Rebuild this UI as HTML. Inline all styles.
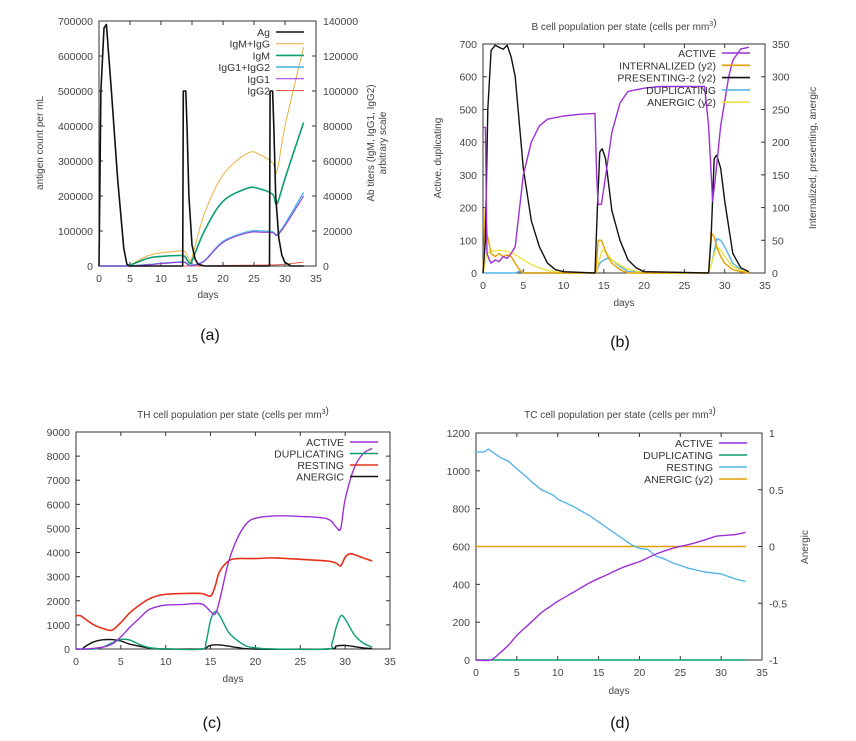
<!DOCTYPE html>
<html><head><meta charset="utf-8">
<style>
body{margin:0;background:#fff;}
svg{display:block;font-family:"Liberation Sans",sans-serif;}
.tk{font-size:10.5px;fill:#444;}
.lb{font-size:10px;fill:#444;}
.lg{font-size:10.5px;fill:#333;}
.cap{font-family:"Liberation Sans",sans-serif;font-size:16px;fill:#111;}
</style></head>
<body>
<svg id="fig" width="856" height="741" viewBox="0 0 856 741"></svg>
<script>
// ---------- Panel (a) data ----------
const aAgDays=[0,0.3,0.8,1.2,2,3,4,4.5,5,13.5,13.6,14,14.2,14.5,15,15.5,16,17,27.5,27.6,28,28.2,28.5,29,29.5,30,31,33];
const aAgVals=[0,500000,680000,690000,500000,250000,50000,5000,0,0,500000,500000,400000,200000,60000,20000,5000,0,0,500000,500000,400000,200000,80000,30000,10000,0,0];
const aIgDays=[0,4.5,5,8,10,13,13.8,14.5,15,17,20,24,26,28,28.7,30,33];
const aIgMIgG=[0,0,500,6000,7500,8500,8500,4000,5000,30000,52000,64500,63500,59000,54000,80000,125000];
const aIgM=[0,0,500,4500,5500,6000,5500,2000,3000,20000,37000,44500,44000,41000,35500,50000,82000];
const aIgG12=[0,0,0,800,1500,2200,2200,500,300,3000,14000,19500,20000,19500,18000,24000,42000];
const aIgG1=[0,0,0,700,1400,2100,2100,400,250,2800,13500,19000,19300,19000,17500,23000,40000];
const aIgG2=[0,0,0,0,0,0,0,0,0,50,300,400,500,600,700,1000,2200];
// ---------- Panel (b) data ----------
const bActDays=[0,0.3,0.5,0.8,1,1.5,2,2.5,3,3.5,4,5,6,7,8,10,12,13.9,14.1,14.3,14.7,15,16,17,18,20,22,25,27.5,28,28.5,28.8,29.5,30.5,31,32,33];
const bActVals=[445,445,60,40,30,40,35,50,45,60,80,300,400,450,470,480,485,488,300,210,210,260,430,520,555,565,570,570,570,450,220,280,450,600,650,685,690];
const bPresDays=[0,0.3,0.6,1,1.5,2,2.5,3,3.5,4,5,6,7,8,9,10,13.9,14.2,14.5,14.8,15.2,16,17,18,19,20,28,28.3,28.7,29,29.5,30,31,32,33];
const bPresVals=[0,50,250,340,348,345,342,348,330,300,160,80,40,15,5,2,0,100,185,190,175,95,50,20,8,2,0,50,175,180,160,110,30,8,2];
const bIntDays=[0,0.3,0.5,1,1.5,2,2.5,3,3.5,4,4.5,5,14,14.3,14.7,15,15.5,16,17,18,28,28.3,28.7,29,29.5,30,31,32,33];
const bIntVals=[0,100,60,30,25,30,25,28,25,15,5,0,0,50,50,40,25,15,5,0,0,62,55,40,25,15,5,2,0];
const bAnDays=[0,0.5,1,2,3,4,5,6,7,8,9,10,14,14.3,14.8,15.5,16,17,18,19,20,28,28.5,29,29.5,30,31,32,33];
const bAnVals=[0,30,33,35,33,28,20,13,8,4,2,0,0,15,35,28,20,12,6,3,0,0,20,40,35,25,10,4,2];
const bDupDays=[0,4,4.5,5,14,14.5,15,15.5,16,17,18,28,28.5,29,29.5,30,31,32,33];
const bDupVals=[0,0,5,0,0,30,40,45,40,20,5,0,40,105,100,80,30,10,0];
// ---------- Panel (c) data ----------
const cActDays=[0,1,2,3,4,5,6,7,8,9,10,12,14,15,15.5,16,17,18,19,20,22,25,28,29,29.5,30,31,32,33];
const cActVals=[0,0,30,80,200,500,900,1250,1600,1750,1820,1850,1870,1550,1450,2000,3600,4600,5200,5420,5520,5500,5400,5050,5000,6200,7500,8100,8320];
const cDupDays=[0,2,3,4,5,6,7,8,9,10,14,14.5,15,15.5,16,17,18,19,20,22,28,28.5,29,29.5,30,31,32,33];
const cDupVals=[0,0,80,250,400,370,200,70,20,0,0,300,1200,1550,1400,700,350,120,50,0,0,200,900,1370,1250,600,250,80];
const cResDays=[0,0.5,1,2,3,4,5,6,7,8,9,10,12,14,15,15.5,16,17,18,20,22,25,28,29,29.5,30,30.5,31,32,33];
const cResVals=[1380,1380,1250,1000,850,780,1100,1500,1800,2050,2200,2270,2300,2300,2200,2600,3200,3650,3750,3750,3780,3720,3650,3560,3450,3800,3950,3920,3780,3650];
const cAnDays=[0,0.7,1,2,3,4,5,6,7,8,9,10,14,14.5,15,16,17,18,20,28,29,30,31,32,33];
const cAnVals=[0,0,100,300,380,390,330,200,120,50,10,0,0,50,150,170,120,60,0,0,120,150,100,40,20];
// ---------- Panel (d) data ----------
const dResDays=[0,1,1.5,2,3,4,5,6,7,8,8.5,9.5,10,11,12,13,14,15,16,17,18,19,20,21,22,23,24,25,26,27,28,29,30,31,32,33];
const dResVals=[1100,1100,1115,1100,1070,1050,1010,975,935,900,890,870,850,830,810,785,760,730,700,670,640,610,590,585,550,535,515,500,485,475,465,460,455,440,425,415];
const dActDays=[0,1.8,3,4,5,6,7,8,9,10,12,14,16,18,20,22,24,26,28,29.5,31,32,33];
const dActVals=[0,0,40,80,130,170,210,250,280,310,360,410,450,490,520,560,590,610,635,655,660,665,675];
const dFlatDays=[0,33];
const dDupVals=[0,0];
const dAnVals=[0,0];
// tick labels
const xTicks=[0,5,10,15,20,25,30,35];
const aYTicks=[0,100000,200000,300000,400000,500000,600000,700000];
const aY2Ticks=[0,20000,40000,60000,80000,100000,120000,140000];
const bYTicks=[0,100,200,300,400,500,600,700];
const bY2Ticks=[0,50,100,150,200,250,300,350];
const cYTicks=[0,1000,2000,3000,4000,5000,6000,7000,8000,9000];
const dYTicks=[0,200,400,600,800,1000,1200];
const dY2Ticks=[-1,-0.5,0,0.5,1];

const NS='http://www.w3.org/2000/svg';
const svg=document.getElementById('fig');
function el(tag,attrs,parent,text){
  const e=document.createElementNS(NS,tag);
  for(const k in attrs)e.setAttribute(k,attrs[k]);
  if(text!==undefined)e.textContent=text;
  (parent||svg).appendChild(e);return e;
}
function panel(name,box,xd,yd,y2d,yt,y2t){
  const g=el('g',{},svg);
  
  
  const sx=v=>box.l+(v-xd[0])/(xd[1]-xd[0])*(box.r-box.l);
  const sy=v=>box.b-(v-yd[0])/(yd[1]-yd[0])*(box.b-box.t);
  const sy2=y2d?(v=>box.b-(v-y2d[0])/(y2d[1]-y2d[0])*(box.b-box.t)):null;
  const ax=el('g',{},g);
  
  
  el('rect',{x:box.l,y:box.t,width:box.r-box.l,height:box.b-box.t,fill:'none',stroke:'#333','stroke-width':1},ax);
  xTicks.forEach(v=>{const x=sx(v);
    el('line',{x1:x,x2:x,y1:box.b,y2:box.b-4,stroke:'#333'},ax);
    el('line',{x1:x,x2:x,y1:box.t,y2:box.t+4,stroke:'#333'},ax);
    const t=el('text',{x:x,y:box.b+16,'text-anchor':'middle',class:'tk'},ax,String(v));
    
    });
  yt.forEach(v=>{const y=sy(v);
    el('line',{x1:box.l,x2:box.l+4,y1:y,y2:y,stroke:'#333'},ax);
    if(!y2d)el('line',{x1:box.r,x2:box.r-4,y1:y,y2:y,stroke:'#333'},ax);
    const t=el('text',{x:box.l-6,y:y+4,'text-anchor':'end',class:'tk'},ax,String(v));
    
    });
  if(y2d)y2t.forEach(v=>{const y=sy2(v);
    el('line',{x1:box.r,x2:box.r-4,y1:y,y2:y,stroke:'#333'},ax);
    const t=el('text',{x:box.r+7,y:y+4,'text-anchor':'start',class:'tk'},ax,String(v));
    
    });
  return {g,sx,sy,sy2};
}
function line(P,days,vals,color,w,useY2,name,smooth){
  const f=useY2?P.sy2:P.sy;
  const pts=days.map((x,i)=>[P.sx(x),f(vals[i])]);
  let d='M'+pts[0][0].toFixed(1)+','+pts[0][1].toFixed(1);
  for(let i=1;i<pts.length;i++){
    if(smooth){
      const p0=pts[Math.max(0,i-2)],p1=pts[i-1],p2=pts[i],p3=pts[Math.min(pts.length-1,i+1)];
      const c1=[p1[0]+(p2[0]-p0[0])/6,p1[1]+(p2[1]-p0[1])/6];
      const c2=[p2[0]-(p3[0]-p1[0])/6,p2[1]-(p3[1]-p1[1])/6];
      d+='C'+c1.map(v=>v.toFixed(1)).join(',')+' '+c2.map(v=>v.toFixed(1)).join(',')+' '+p2[0].toFixed(1)+','+p2[1].toFixed(1);
    } else d+='L'+pts[i][0].toFixed(1)+','+pts[i][1].toFixed(1);
  }
  const p=el('path',{d:d,fill:'none',stroke:color,'stroke-width':w,'stroke-linejoin':'round'},P.g);
  
  
}
function legend(P,xr,y0,dy,items){
  const lg=el('g',{},P.g);
  
  
  items.forEach((it,i)=>{const y=y0+i*dy;
    const e=el('g',{},lg);
    
    
    el('text',{x:xr,y:y+4,'text-anchor':'end',class:'lg'},e,it[0]);
    el('line',{x1:xr+6,x2:xr+34,y1:y,y2:y,stroke:it[1],'stroke-width':it[2]},e);});
}
function label(text,x,y,rot,cls,name){
  const t=el('text',{x:x,y:y,'text-anchor':'middle',class:cls||'lb',transform:rot?`rotate(-90 ${x} ${y})`:''},svg,text);
  
  
  return t;
}
function title(html,x,y,name){
  const t=el('text',{x:x,y:y,'text-anchor':'middle',class:'lb'},svg);
  t.innerHTML=html;
  
  
}
const PUR='#9b30d9',GRN='#0a9e73',BLU='#56b4e9',ORG='#e69f00',YEL='#f0e442',BLK='#111',RED='#e5301a';

// Panel a
const A=panel('panel-a-antibody',{l:99,r:316,t:21,b:266},[0,35],[0,700000],[0,140000],aYTicks,aY2Ticks);
line(A,aIgDays,aIgG2,'#e06050',1,true,'igg2-line',true);
line(A,aIgDays,aIgMIgG,'#e8b040',1,true,'igm-igg-line',true);
line(A,aIgDays,aIgM,GRN,1.6,true,'igm-line',true);
line(A,aIgDays,aIgG12,BLU,1.6,true,'igg1-igg2-line',true);
line(A,aIgDays,aIgG1,PUR,1,true,'igg1-line',true);
line(A,aAgDays,aAgVals,BLK,1.6,false,'ag-line',false);
legend(A,270,32,11.7,[['Ag',BLK,1.6],['IgM+IgG','#e8b040',1],['IgM',GRN,1.6],['IgG1+IgG2',BLU,1.6],['IgG1',PUR,1],['IgG2','#e06050',1]]);
label('antigen count per mL',43,143,true,'lb','y-axis-title');
label('Ab titers (IgM, IgG1, IgG2)',374,143,true,'lb','y2-axis-title');
label('arbitrary scale',386,143,true,'lb','y2-axis-title-2');
label('days',208,298,false,'lb','x-axis-title');

// Panel b
title('B cell population  per state (cells per mm<tspan dy="-4" font-size="7">3</tspan>)',624,30,'chart-title');
const B=panel('panel-b-bcell',{l:483,r:765,t:44,b:273},[0,35],[0,700],[0,350],bYTicks,bY2Ticks);
line(B,bDupDays,bDupVals,BLU,1.4,false,'duplicating-line',false);
line(B,bAnDays,bAnVals,YEL,1.4,true,'anergic-line',false);
line(B,bIntDays,bIntVals,ORG,1.4,true,'internalized-line',false);
line(B,bPresDays,bPresVals,BLK,1.4,true,'presenting-line',false);
line(B,bActDays,bActVals,PUR,1.4,false,'active-line',false);
legend(B,716,53,12.3,[['ACTIVE',PUR,1.6],['INTERNALIZED (y2)',ORG,1.6],['PRESENTING-2 (y2)',BLK,1.6],['DUPLICATING',BLU,1.6],['ANERGIC (y2)',YEL,1.6]]);
label('Active, duplicating',441,158,true,'lb','y-axis-title');
label('Internalized, presenting, anergic',816,158,true,'lb','y2-axis-title');
label('days',624,306,false,'lb','x-axis-title');

// Panel c
title('TH cell population per state (cells per mm<tspan dy="-4" font-size="7">3</tspan>)',233,418,'chart-title');
const C=panel('panel-c-thcell',{l:76,r:390,t:432,b:649},[0,35],[0,9000],null,cYTicks,null);
line(C,cAnDays,cAnVals,BLK,1.4,false,'anergic-line',true);
line(C,cDupDays,cDupVals,GRN,1.4,false,'duplicating-line',true);
line(C,cResDays,cResVals,RED,1.6,false,'resting-line',true);
line(C,cActDays,cActVals,PUR,1.4,false,'active-line',true);
legend(C,344,442,11.5,[['ACTIVE',PUR,1.6],['DUPLICATING',GRN,1.6],['RESTING',RED,1.6],['ANERGIC',BLK,1.6]]);
label('days',233,682,false,'lb','x-axis-title');

// Panel d
title('TC cell population per state (cells per mm<tspan dy="-4" font-size="7">3</tspan>)',620,418,'chart-title');
const D=panel('panel-d-tccell',{l:476,r:762,t:433,b:660},[0,35],[0,1200],[-1,1],dYTicks,dY2Ticks);
line(D,dFlatDays,dAnVals,ORG,1.6,true,'anergic-line',false);
line(D,dFlatDays,dDupVals,GRN,1.6,false,'duplicating-line',false);
line(D,dResDays,dResVals,BLU,1.4,false,'resting-line',false);
line(D,dActDays,dActVals,PUR,1.4,false,'active-line',true);
legend(D,713,443,12,[['ACTIVE',PUR,1.6],['DUPLICATING',GRN,1.6],['RESTING',BLU,1.6],['ANERGIC (y2)',ORG,1.6]]);
label('Anergic',808,547,true,'lb','y2-axis-title');
label('days',619,694,false,'lb','x-axis-title');

// captions
label('(a)',210,340,false,'cap','caption-a');
label('(b)',620,347,false,'cap','caption-b');
label('(c)',212,728,false,'cap','caption-c');
label('(d)',620,728,false,'cap','caption-d');
</script>
</body></html>
